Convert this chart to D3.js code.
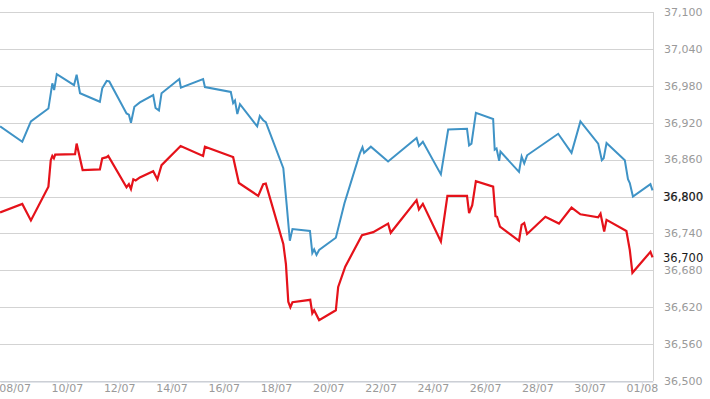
<!DOCTYPE html>
<html>
<head>
<meta charset="utf-8">
<script src="https://cdn.jsdelivr.net/npm/d3@7"></script>
<style>
  html, body { margin: 0; padding: 0; background: #fff; }
  svg { display: block; font-family: "DejaVu Sans", Verdana, sans-serif; }
</style>
</head>
<body>
<svg id="chart"></svg>
<script>
// day of July (fractional, 32 = 1 Aug) and value
var blueDays = [7.44, 8.29, 8.62, 9.29, 9.44, 9.51, 9.61, 10.27, 10.37, 10.50, 11.26, 11.35, 11.52, 11.62,
  12.28, 12.37, 12.45, 12.58, 12.79, 13.30, 13.39, 13.52, 13.62, 14.30, 14.36, 15.21, 15.28, 16.27, 16.36,
  16.43, 16.52, 16.62, 17.28, 17.38, 17.51, 17.61, 18.28, 18.41, 18.53, 18.63, 19.30, 19.39, 19.46, 19.55,
  19.65, 20.29, 20.62, 21.21, 21.31, 21.37, 21.63, 22.29, 23.38, 23.47, 23.62, 24.31, 24.59, 25.31, 25.39,
  25.48, 25.65, 26.31, 26.37, 26.44, 26.54, 26.59, 27.30, 27.40, 27.50, 27.61, 28.80, 29.31, 29.65, 30.33,
  30.47, 30.54, 30.65, 31.35, 31.47, 31.54, 31.66, 32.33, 32.41];
var blueValues = [36914, 36889, 36922, 36943, 36984, 36973, 36999, 36981, 36998, 36968, 36954, 36976, 36988, 36987,
  36935, 36933, 36920, 36946, 36953, 36965, 36944, 36940, 36968, 36991, 36977, 36991, 36978, 36970, 36952,
  36956, 36934, 36950, 36914, 36931, 36924, 36921, 36846, 36786, 36728, 36747, 36744, 36708, 36714, 36705,
  36713, 36733, 36789, 36870, 36880, 36871, 36881, 36857, 36895, 36882, 36889, 36836, 36909, 36910, 36883,
  36886, 36936, 36926, 36876, 36878, 36858, 36873, 36840, 36865, 36854, 36867, 36902, 36871, 36922, 36886,
  36859, 36862, 36887, 36859, 36828, 36822, 36800, 36820, 36810];

var redDays = [7.44, 8.29, 8.62, 9.29, 9.38, 9.44, 9.50, 9.55, 10.31, 10.37, 10.60, 11.26, 11.35, 11.52, 11.58,
  12.28, 12.37, 12.45, 12.54, 12.63, 12.79, 13.30, 13.46, 13.62, 14.35, 15.21, 15.28, 16.30, 16.36, 16.58,
  17.32, 17.51, 17.61, 18.28, 18.38, 18.47, 18.55, 18.63, 19.31, 19.39, 19.46, 19.65, 20.29, 20.38, 20.65,
  21.29, 21.72, 22.29, 22.39, 23.38, 23.47, 23.62, 24.31, 24.56, 25.31, 25.39, 25.51, 25.65, 26.31, 26.40,
  26.46, 26.57, 27.30, 27.40, 27.50, 27.61, 28.31, 28.83, 29.31, 29.65, 30.33, 30.42, 30.56, 30.65, 31.41,
  31.54, 31.64, 32.33, 32.41];
var redValues = [36774, 36788, 36761, 36816, 36859, 36866, 36862, 36868, 36869, 36886, 36843, 36844, 36862, 36864, 36866,
  36815, 36820, 36812, 36828, 36826, 36831, 36841, 36828, 36851, 36882, 36866, 36881, 36865, 36864, 36822,
  36801, 36820, 36821, 36723, 36690, 36629, 36620, 36628, 36632, 36610, 36615, 36599, 36615, 36653, 36686,
  36737, 36742, 36756, 36741, 36794, 36779, 36788, 36727, 36801, 36801, 36773, 36786, 36825, 36816, 36768,
  36767, 36751, 36728, 36754, 36757, 36739, 36767, 36756, 36782, 36771, 36766, 36772, 36743, 36762, 36744,
  36713, 36676, 36710, 36701];

var yTicks = [36500, 36560, 36620, 36680, 36740, 36800, 36860, 36920, 36980, 37040, 37100];
var xTickLabels = ["08/07", "10/07", "12/07", "14/07", "16/07", "18/07", "20/07", "22/07", "24/07", "26/07", "28/07", "30/07", "01/08"];
var lastLabels = ["36,800", "36,700"];
var lastLabelValues = [36800, 36700];

var W = 710, H = 399,
  plot = { left: 0, right: 653, top: 12, bottom: 381 };

var july = function (d) { return new Date(2016, 6, 1).getTime() + (d - 1) * 864e5 },
  parseTick = d3.timeParse("%d/%m/%Y");

var x = d3.scaleTime()
  .domain([new Date(july(7.4374)), new Date(july(32.428))])
  .range([plot.left, plot.right]);
var y = d3.scaleLinear()
  .domain([36500, 37100])
  .range([plot.bottom, plot.top]);

var svg = d3.select("#chart").attr("width", W).attr("height", H);

// grid
svg.append("g").selectAll("line")
  .data(yTicks)
  .enter().append("line")
  .attr("x1", plot.left).attr("x2", plot.right)
  .attr("y1", function (d) { return Math.round(y(d)) + .5 })
  .attr("y2", function (d) { return Math.round(y(d)) + .5 })
  .attr("stroke", "#d3d3d3");
svg.append("line")
  .attr("x1", plot.right + .5).attr("x2", plot.right + .5)
  .attr("y1", plot.top).attr("y2", plot.bottom)
  .attr("stroke", "#d3d3d3");

// y labels on the right
svg.append("g").selectAll("text")
  .data(yTicks)
  .enter().append("text")
  .attr("x", 664)
  .attr("y", function (d) { return y(d) })
  .attr("dy", "0.35em")
  .attr("font-size", "11px")
  .attr("fill", "#9a9a9a")
  .text(d3.format(","));

// x axis
var xAxis = d3.axisBottom(x)
  .tickValues(xTickLabels.map(function (s) { return parseTick(s + "/2016") }))
  .tickFormat(d3.timeFormat("%d/%m"))
  .tickSize(5)
  .tickSizeOuter(0);
var gx = svg.append("g")
  .attr("transform", "translate(0," + (plot.bottom + .5) + ")")
  .call(xAxis);
gx.select(".domain").attr("stroke", "#c5cbd6");
gx.selectAll(".tick line").attr("stroke", "#d6dae2");
gx.selectAll(".tick text")
  .attr("y", 3)
  .attr("font-family", "DejaVu Sans, Verdana, sans-serif")
  .attr("font-size", "11px")
  .attr("fill", "#9a9a9a");

// lines
var line = d3.line()
  .x(function (d) { return x(new Date(july(d[0]))) })
  .y(function (d) { return y(d[1]) });

svg.append("path")
  .datum(d3.zip(blueDays, blueValues))
  .attr("d", line)
  .attr("fill", "none")
  .attr("stroke", "#3f93c6")
  .attr("stroke-width", 2)
  .attr("stroke-linejoin", "miter");
svg.append("path")
  .datum(d3.zip(redDays, redValues))
  .attr("d", line)
  .attr("fill", "none")
  .attr("stroke", "#e5121a")
  .attr("stroke-width", 2.2)
  .attr("stroke-linejoin", "miter");

// last value labels
svg.append("g").selectAll("text")
  .data(lastLabels)
  .enter().append("text")
  .attr("x", 663)
  .attr("y", function (d, i) { return y(lastLabelValues[i]) })
  .attr("dy", "0.35em")
  .attr("font-size", "11.5px")
  .attr("fill", "#1a1a1a")
  .text(function (d) { return d });
</script>
</body>
</html>
